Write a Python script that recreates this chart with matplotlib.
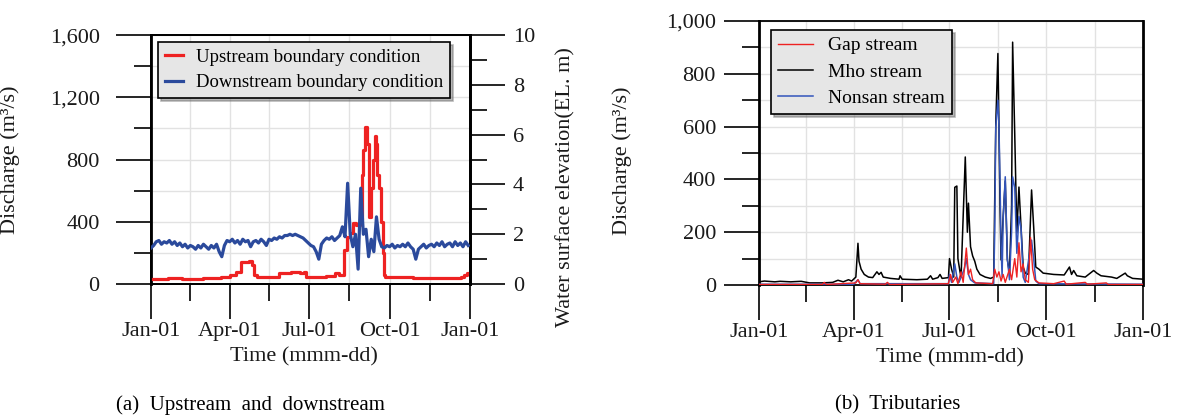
#importing libraries
import numpy as np
import matplotlib
matplotlib.use('Agg')
import matplotlib.pyplot as plt
from matplotlib.ticker import FixedLocator, MultipleLocator, FuncFormatter

plt.rcParams['font.family'] = ['Liberation Serif', 'DejaVu Serif']

#tick labels
month_ticks = [0, 90, 181, 273, 365]
month_labels = ['Jan-01', 'Apr-01', 'Jul-01', 'Oct-01', 'Jan-01']
half_ticks = [45, 135.5, 227, 319]

#(a) upstream discharge (m3/s): breakpoints (day, value)
up_day = [0, 10, 20, 35, 60, 80, 90, 97, 100, 103, 112, 115, 118, 121, 140, 146, 160, 170, 175, 177,
          200, 210, 215, 221, 224, 228, 231, 235, 239, 241, 243, 245, 247, 249, 250, 252, 254,
          256, 258, 259, 261, 263, 265, 267, 268, 300, 340, 355, 358, 362, 365]
up_q = [35, 30, 38, 35, 38, 45, 60, 75, 80, 140, 150, 120, 60, 45, 45, 70, 75, 70, 75, 45,
        50, 70, 60, 220, 300, 330, 390, 380, 420, 700, 860, 1010, 900, 600, 430, 620, 800,
        950, 900, 700, 620, 400, 200, 60, 45, 40, 42, 45, 60, 70, 70]

#(a) downstream water surface elevation (EL. m), every 3 days
down_day = list(range(0, 366, 3))
down_el = [1.45, 1.55, 1.7, 1.75, 1.6, 1.7, 1.65, 1.75, 1.6, 1.7, 1.55, 1.65, 1.5, 1.6, 1.45, 1.55,
           1.5, 1.4, 1.55, 1.45, 1.6, 1.5, 1.4, 1.55, 1.45, 1.6, 1.3, 1.1, 1.55, 1.75, 1.7, 1.8,
           1.65, 1.75, 1.6, 1.8, 1.7, 1.75, 1.5, 1.7, 1.75, 1.65, 1.8, 1.7, 1.55, 1.8, 1.75, 1.85,
           1.8, 1.9, 1.85, 1.95, 1.95, 2.0, 1.95, 2.0, 1.95, 1.9, 1.85, 1.75, 1.65, 1.55, 1.5, 1.3,
           1.0, 1.6, 1.75, 1.85, 1.8, 1.9, 1.75, 1.85, 1.95, 2.3, 1.9, 4.05, 2.0, 1.5, 2.0, 0.6,
           3.85, 2.0, 2.2, 1.1, 1.8, 1.3, 2.7, 1.8, 1.5, 1.45, 1.55, 1.5, 1.6, 1.45, 1.55, 1.5,
           1.6, 1.5, 1.65, 1.5, 1.4, 1.0, 1.4, 1.5, 1.6, 1.45, 1.55, 1.6, 1.5, 1.65, 1.55, 1.7,
           1.5, 1.6, 1.65, 1.5, 1.7, 1.55, 1.65, 1.5, 1.7, 1.55]

#(b) tributaries (m3/s)
gap_day = [0, 60, 62, 64, 92, 94, 96, 120, 122, 124, 180, 182, 184, 187, 189, 192, 194, 197, 199,
           201, 203, 206, 222, 224, 226, 228, 230, 232, 234, 238, 240, 243, 245, 247, 249, 251,
           253, 256, 258, 260, 262, 266, 280, 290, 292, 310, 312, 330, 332, 365]
gap_q = [2, 2, 10, 2, 8, 20, 5, 3, 10, 2, 5, 40, 10, 30, 5, 50, 10, 140, 40,
         60, 20, 8, 5, 60, 30, 50, 15, 40, 10, 60, 20, 100, 30, 160, 50, 80,
         20, 10, 180, 60, 20, 8, 5, 15, 3, 10, 3, 8, 2, 2]

mho_day = [0, 5, 15, 20, 30, 40, 48, 60, 70, 75, 80, 85, 88, 92, 94, 95, 97, 100, 104, 108, 112,
           114, 116, 118, 125, 133, 134, 136, 150, 160, 163, 165, 170, 172, 174, 180, 181, 183,
           185, 186, 188, 189, 191, 192, 194, 196, 198, 199, 201, 203, 205, 207, 210, 215, 220,
           223, 224, 225, 227, 228, 229, 230, 232, 234, 236, 238, 240, 241, 243, 245, 247, 249,
           251, 253, 256, 259, 261, 263, 266, 270, 280, 290, 295, 297, 299, 302, 310, 318, 321,
           325, 335, 340, 348, 350, 355, 365]
mho_q = [12, 15, 12, 14, 12, 14, 8, 8, 10, 18, 12, 20, 15, 30, 158, 90, 60, 40, 30, 28, 50,
         40, 48, 30, 25, 22, 35, 22, 20, 22, 35, 22, 28, 40, 25, 28, 100, 60,
         30, 370, 375, 100, 50, 30, 260, 485, 200, 310, 145, 110, 90, 60, 40, 30, 25,
         30, 330, 613, 877, 600, 300, 95, 260, 394, 95, 45, 300, 920, 572, 197, 371, 220,
         68, 45, 40, 360, 220, 68, 60, 45, 40, 38, 68, 40, 55, 35, 30, 55, 45,
         35, 30, 25, 45, 35, 25, 22]

nonsan_day = [0, 90, 94, 96, 180, 181, 183, 186, 188, 190, 195, 197, 199, 201, 205, 223, 224, 225,
              227, 228, 229, 230, 231, 232, 234, 236, 238, 240, 241, 243, 245, 247, 249, 251, 253,
              259, 261, 263, 266, 365]
nonsan_q = [3, 3, 20, 5, 5, 40, 10, 80, 30, 10, 60, 100, 40, 20, 8, 5, 200, 600,
            700, 600, 400, 150, 30, 250, 410, 100, 20, 200, 410, 370, 120, 260, 215, 30, 10,
            170, 100, 15, 5, 3]

fig = plt.figure(figsize=(11.77, 4.19), dpi=100)
ax = fig.add_axes([0.1283, 0.322, 0.271, 0.5943])
ax2 = ax.twinx()
bx = fig.add_axes([0.6449, 0.3198, 0.3263, 0.630])

txt = '#1a1a1a'
grid_c = '#e2e2e2'


def style_axes(a, ymax, ymajor, yminor, ypad):
    a.set_xlim(0, 365)
    a.set_ylim(0, ymax)
    a.xaxis.set_major_locator(FixedLocator(month_ticks))
    a.xaxis.set_minor_locator(FixedLocator(half_ticks))
    a.set_xticklabels(month_labels)
    a.yaxis.set_major_locator(MultipleLocator(ymajor))
    a.yaxis.set_minor_locator(MultipleLocator(yminor))
    a.yaxis.set_major_formatter(FuncFormatter(lambda v, p: '{:,.0f}'.format(v)))
    a.grid(True, which='both', color=grid_c, lw=1.0, zorder=0)
    a.set_axisbelow(True)
    a.tick_params(axis='both', which='major', direction='out', length=25, width=1.2,
                  labelsize=16, colors='black', labelcolor=txt)
    a.tick_params(axis='both', which='minor', direction='out', length=12, width=1.2)
    a.tick_params(axis='y', which='major', pad=ypad)
    a.tick_params(axis='x', which='major', pad=2)
    for s in a.spines.values():
        s.set_linewidth(1.3)
    a.spines['left'].set_linewidth(2.0)
    a.set_xlabel('Time (mmm-dd)', fontsize=16, color=txt)
    a.set_ylabel('Discharge (m³/s)', fontsize=16, color=txt)


#(a)
style_axes(ax, 1600, 400, 200, 12)
ax.spines['right'].set_linewidth(2.0)
ax.xaxis.set_label_coords(0.48, -0.255)
ax.yaxis.set_label_coords(-0.41, 0.5)
l1, = ax.plot(up_day, up_q, color='#ee2222', lw=2.3, drawstyle='steps-post',
              label='Upstream boundary condition', zorder=3)

ax2.set_ylim(0, 10)
ax2.yaxis.set_major_locator(MultipleLocator(2))
ax2.yaxis.set_minor_locator(MultipleLocator(1))
ax2.tick_params(axis='y', which='major', direction='out', length=25, width=1.2,
                labelsize=16, labelcolor=txt, pad=6)
ax2.tick_params(axis='y', which='minor', direction='out', length=12, width=1.2)
for s in ax2.spines.values():
    s.set_linewidth(1.3)
ax2.spines['right'].set_linewidth(2.0)
ax2.set_ylabel('Water surface elevation(EL. m)', fontsize=16, color=txt)
ax2.yaxis.set_label_coords(1.27, 0.39)
l2, = ax2.plot(down_day, down_el, color='#2b4a9c', lw=2.3,
               label='Downstream boundary condition', zorder=3)

leg = ax2.legend(handles=[l1, l2], loc='upper left', bbox_to_anchor=(0.022, 0.972),
                 borderaxespad=0, fontsize=13.5, handlelength=1.0, handletextpad=0.7,
                 fancybox=False, shadow={'color': '0.45'}, framealpha=1,
                 facecolor='#e6e6e6', edgecolor='black', borderpad=0.35, labelspacing=0.45)
leg.get_frame().set_linewidth(1.2)
leg.set_zorder(10)

#(b)
style_axes(bx, 1000, 200, 100, 6)
bx.spines['right'].set_linewidth(2.0)
bx.xaxis.set_label_coords(0.497, -0.24)
bx.yaxis.set_label_coords(-0.33, 0.47)
g1, = bx.plot(gap_day, gap_q, color='#ee2222', lw=1.0, label='Gap stream', zorder=4)
g2, = bx.plot(mho_day, mho_q, color='black', lw=1.1, label='Mho stream', zorder=2)
g3, = bx.plot(nonsan_day, nonsan_q, color='#3355bb', lw=1.1, label='Nonsan stream', zorder=3)
leg2 = bx.legend(handles=[g1, g2, g3], loc='upper left', bbox_to_anchor=(0.031, 0.966),
                 borderaxespad=0, fontsize=14, handlelength=1.8, handletextpad=0.8,
                 fancybox=False, shadow={'color': '0.45'}, framealpha=1,
                 facecolor='#e6e6e6', edgecolor='black', borderpad=0.35, labelspacing=0.45)
leg2.get_frame().set_linewidth(1.2)
leg2.set_zorder(10)

fig.text(250 / 1177, 1 - 405 / 419, '(a)  Upstream  and  downstream', ha='center', va='center',
         fontsize=15)
fig.text(898 / 1177, 1 - 405 / 419, '(b)  Tributaries', ha='center', va='center', fontsize=15)

plt.savefig('out.png', dpi=100)
